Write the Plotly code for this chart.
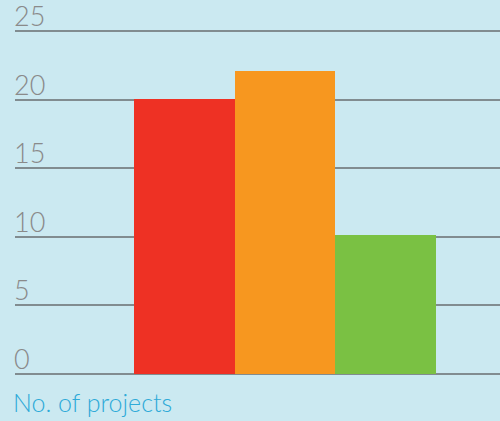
import plotly.graph_objects as go

categories = ["A", "B", "C"]
values = [20.1, 22.1, 10.1]
colors = ["#ee3124", "#f7971f", "#7ac143"]
tick_values = [0, 5, 10, 15, 20, 25]
tick_labels = ["0", "5", "10", "15", "20", "25"]
y_title = "No. of projects"

bg = "#cbe9f1"

fig = go.Figure()
fig.add_trace(go.Bar(
    x=[1, 2, 3], y=values, width=1.0,
    marker=dict(color=colors, line=dict(width=0)),
    hoverinfo="skip", showlegend=False,
))

for v, t in zip(tick_values, tick_labels):
    fig.add_annotation(
        x=0, xref="paper", y=v, yref="y", text=t, showarrow=False,
        xanchor="left", yanchor="bottom", yshift=-3, xshift=-3,
        font=dict(family="Lato", size=27, color="#8a8a8a", weight=300),
    )

fig.add_annotation(
    x=0, xref="paper", y=-3.47, yref="y", text=y_title, showarrow=False,
    xanchor="left", yanchor="bottom", yshift=2, xshift=-4,
    font=dict(family="Lato", size=25, color="#2eaad8", weight=300),
)

fig.update_layout(
    width=500, height=421,
    margin=dict(l=15, r=0, t=0, b=0),
    paper_bgcolor=bg, plot_bgcolor=bg,
    bargap=0,
    xaxis=dict(range=[-0.682, 4.136], visible=False, fixedrange=True),
    yaxis=dict(range=[-3.47, 27.30], tickvals=tick_values, showticklabels=False,
               showgrid=True, gridcolor="#818c90", gridwidth=1.6,
               zeroline=False, showline=False, fixedrange=True),
)
fig.update_xaxes(showgrid=False)
fig.update_layout(yaxis_layer="below traces")

fig.write_html(
    "out.html",
    config={"displayModeBar": False},
    post_script="document.body.style.margin='0';document.body.style.padding='0';",
)
